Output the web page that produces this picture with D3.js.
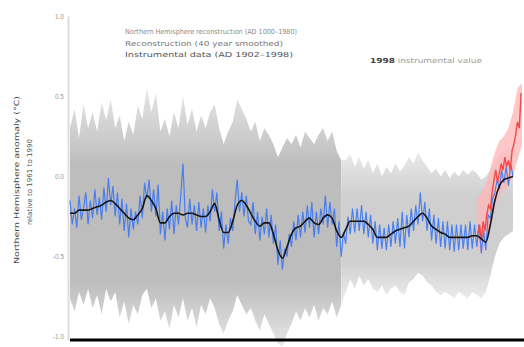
<!DOCTYPE html>
<html><head><meta charset="utf-8">
<script src="https://cdn.jsdelivr.net/npm/d3@7"></script>
<style>body{margin:0;background:#fff}svg{display:block;font-family:"DejaVu Sans",sans-serif}</style>
</head><body><svg id="c" width="524" height="347"></svg>
<script>
// ---- data ----
const yTicks = [1.0, 0.5, 0.0, -0.5, -1.0];
const yTickLabels = ["1.0", "0.5", "0.0", "-0.5", "-1.0"];
const yTitle = ["Northern Hemisphere anomaly (°C)", "relative to 1961 to 1990"];
const legendLines = ["Northern Hemisphere reconstruction (AD 1000–1980)", "Reconstruction (40 year smoothed)", "Instrumental data (AD 1902–1998)"];
const noteText = ["1998", " instrumental value"];

// annual reconstruction, sampled every 5 years, 1000..1980
const blueStart = 1000, blueStep = 5;
const blueValues = [
-0.15,-0.30,-0.20,-0.32,-0.12,-0.27,-0.20,-0.10,-0.30,-0.15,-0.26,-0.08,-0.24,-0.13,-0.27,-0.07,-0.22,-0.01,-0.18,-0.06,
-0.25,-0.10,-0.30,-0.14,-0.34,-0.17,-0.38,-0.20,-0.33,-0.22,-0.30,-0.12,-0.26,-0.04,-0.14,-0.02,-0.22,-0.08,-0.25,-0.05,
-0.36,-0.22,-0.40,-0.20,-0.33,-0.15,-0.36,-0.18,-0.30,-0.12,0.08,-0.26,-0.32,-0.14,-0.30,-0.18,-0.34,-0.16,-0.32,-0.20,
-0.35,-0.18,-0.28,-0.08,-0.22,-0.10,-0.34,-0.22,-0.45,-0.30,-0.42,-0.26,-0.34,-0.16,-0.02,-0.22,-0.10,-0.25,-0.12,-0.28,
-0.30,-0.16,-0.36,-0.22,-0.40,-0.25,-0.36,-0.20,-0.38,-0.24,-0.42,-0.30,-0.55,-0.40,-0.58,-0.45,-0.50,-0.36,-0.44,-0.28,
-0.40,-0.24,-0.38,-0.22,-0.35,-0.18,-0.32,-0.16,-0.38,-0.22,-0.36,-0.20,-0.30,-0.12,-0.32,-0.16,-0.30,-0.20,-0.44,-0.28,
-0.50,-0.35,-0.42,-0.25,-0.36,-0.20,-0.35,-0.20,-0.34,-0.18,-0.36,-0.22,-0.38,-0.24,-0.42,-0.28,-0.46,-0.30,-0.45,-0.32,
-0.46,-0.30,-0.44,-0.28,-0.42,-0.26,-0.44,-0.22,-0.45,-0.24,-0.38,-0.20,-0.34,-0.18,-0.30,-0.10,-0.28,-0.16,-0.34,-0.20,
-0.40,-0.24,-0.42,-0.26,-0.44,-0.28,-0.45,-0.28,-0.46,-0.30,-0.47,-0.30,-0.46,-0.30,-0.45,-0.30,-0.46,-0.28,-0.45,-0.30,
-0.44,-0.30,-0.48,-0.34,-0.46,-0.24,-0.26,-0.14,-0.10,-0.02,-0.08,0.04,-0.04,0.06,-0.06,0.08,0.00
];

// 40-year smoothed, every 10 years, 1000..1980
const smoothStart = 1000, smoothStep = 10;
const smoothValues = [
-0.23,-0.23,-0.21,-0.21,-0.21,-0.20,-0.19,-0.18,-0.16,-0.15,
-0.17,-0.20,-0.23,-0.26,-0.27,-0.24,-0.20,-0.12,-0.15,-0.20,
-0.29,-0.29,-0.25,-0.23,-0.23,-0.24,-0.23,-0.23,-0.24,-0.25,
-0.25,-0.22,-0.17,-0.27,-0.35,-0.35,-0.28,-0.18,-0.15,-0.18,
-0.23,-0.28,-0.31,-0.29,-0.29,-0.36,-0.46,-0.51,-0.44,-0.36,
-0.32,-0.31,-0.28,-0.26,-0.29,-0.30,-0.26,-0.24,-0.26,-0.34,
-0.38,-0.33,-0.28,-0.28,-0.28,-0.28,-0.30,-0.33,-0.38,-0.38,
-0.38,-0.36,-0.34,-0.33,-0.32,-0.31,-0.28,-0.25,-0.23,-0.26,
-0.31,-0.33,-0.35,-0.36,-0.38,-0.38,-0.38,-0.38,-0.38,-0.37,
-0.37,-0.39,-0.41,-0.30,-0.15,-0.06,-0.02,-0.01,0.00
];

// uncertainty limits, every 10 years, 1000..1980
const bandStart = 1000, bandStep = 10;
const bandUpper = [
0.30,0.42,0.24,0.45,0.30,0.40,0.28,0.46,0.35,0.48,
0.30,0.38,0.22,0.34,0.26,0.44,0.36,0.55,0.40,0.52,
0.28,0.36,0.25,0.40,0.30,0.50,0.32,0.42,0.28,0.38,
0.30,0.40,0.45,0.30,0.20,0.28,0.34,0.48,0.42,0.36,
0.28,0.34,0.22,0.30,0.26,0.20,0.12,0.18,0.24,0.20,
0.26,0.18,0.28,0.24,0.20,0.26,0.30,0.22,0.28,0.16,
0.10,0.10,0.14,0.06,0.12,0.05,0.10,0.02,0.08,0.00,
0.06,0.02,0.08,0.03,0.07,0.12,0.08,0.15,0.10,0.06,
0.02,0.05,0.00,0.04,-0.01,0.03,0.00,0.04,0.01,0.04,
0.02,-0.02,0.00,0.04,0.08,0.14,0.16,0.18,0.18
];
const bandLower = [
-0.76,-0.84,-0.72,-0.80,-0.70,-0.82,-0.74,-0.86,-0.70,-0.78,
-0.72,-0.88,-0.78,-0.92,-0.80,-0.86,-0.74,-0.70,-0.82,-0.76,
-0.90,-0.84,-0.95,-0.80,-0.88,-0.76,-0.90,-0.82,-0.94,-0.80,
-0.86,-0.76,-0.82,-0.92,-0.98,-0.90,-0.84,-0.74,-0.80,-0.86,
-0.82,-0.90,-0.96,-0.86,-0.92,-0.98,-1.04,-1.06,-0.98,-0.92,
-0.84,-0.90,-0.82,-0.88,-0.80,-0.90,-0.82,-0.86,-0.78,-0.88,
-0.80,-0.72,-0.64,-0.70,-0.62,-0.68,-0.64,-0.70,-0.72,-0.68,
-0.74,-0.70,-0.68,-0.72,-0.74,-0.66,-0.64,-0.60,-0.62,-0.66,
-0.68,-0.72,-0.74,-0.72,-0.74,-0.76,-0.72,-0.74,-0.76,-0.72,
-0.74,-0.76,-0.72,-0.62,-0.50,-0.42,-0.38,-0.36,-0.34
];
const bandSplitYear = 1600;

// instrumental record (thermometers), every 4 years, 1902..1998
const redStart = 1902, redStep = 4;
const redValues = [-0.36,-0.30,-0.40,-0.28,-0.34,-0.24,-0.18,-0.20,-0.10,-0.02,0.04,-0.04,0.02,0.08,0.04,0.12,0.06,0.10,0.04,0.16,0.20,0.26,0.34,0.30,0.52];
// instrumental spread, every 10 years, 1900..2000
const pinkStart = 1900, pinkStep = 10;
const pinkUpper = [-0.15,-0.10,-0.05,0.05,0.15,0.22,0.25,0.30,0.40,0.55,0.58];
const pinkLower = [-0.45,-0.48,-0.42,-0.32,-0.20,-0.12,-0.08,-0.06,0.00,0.10,0.20];

// ---- chart ----
const W = 524, H = 347;
const svg = d3.select("#c");
const x = d3.scaleLinear().domain([1000, 2000]).range([70, 522]);
const y = d3.scaleLinear().domain([-1.02, 1.0]).range([340, 16]);

const series = (start, step, vals) => vals.map((v, i) => ({yr: start + i * step, v}));
const blue = series(blueStart, blueStep, blueValues);
const smooth = series(smoothStart, smoothStep, smoothValues);
const band = bandUpper.map((u, i) => ({yr: bandStart + i * bandStep, hi: u, lo: bandLower[i]}));
const red = series(redStart, redStep, redValues);
const pink = pinkUpper.map((u, i) => ({yr: pinkStart + i * pinkStep, hi: u, lo: pinkLower[i]}));

const area = d3.area().x(d => x(d.yr)).y0(d => y(d.lo)).y1(d => y(d.hi));
const line = d3.line().x(d => x(d.yr)).y(d => y(d.v));

// defs: soft-edged band gradients and a light blur
const defs = svg.append("defs");
function grad(id, top, bot, core, edge) {
  const g = defs.append("linearGradient").attr("id", id).attr("gradientUnits", "userSpaceOnUse")
    .attr("x1", 0).attr("x2", 0).attr("y1", y(top)).attr("y2", y(bot));
  [[0, edge], [0.3, core], [0.75, core], [1, edge]].forEach(([o, c]) =>
    g.append("stop").attr("offset", o).attr("stop-color", c));
}
grad("gL", 0.55, -1.06, "#bdbdbd", "#e6e6e6");
grad("gR", 0.16, -0.76, "#cfcfcf", "#ebebeb");
defs.append("filter").attr("id", "soft").attr("x", "-5%").attr("y", "-5%").attr("width", "110%").attr("height", "110%")
  .append("feGaussianBlur").attr("stdDeviation", 0.55);

// y axis (light line, grey labels)
const yAxis = d3.axisLeft(y).tickValues(yTicks).tickFormat((d, i) => yTickLabels[i]).tickSize(0).tickPadding(4);
const gy = svg.append("g").attr("transform", "translate(68,0)").call(yAxis);
gy.select(".domain").attr("stroke", "#ddd").attr("stroke-width", 2);
gy.selectAll("text").attr("font-size", 6.5).attr("fill", "#999");

const marks = svg.append("g").attr("filter", "url(#soft)");

// uncertainty band
marks.append("path").datum(band.filter(d => d.yr <= bandSplitYear))
  .attr("d", area).attr("fill", "url(#gL)");
marks.append("path").datum(band.filter(d => d.yr >= bandSplitYear))
  .attr("d", area).attr("fill", "url(#gR)");

// instrumental spread
marks.append("path").datum(pink).attr("d", area).attr("fill", "#ffb4b4").attr("opacity", 0.75);

// annual reconstruction
marks.append("path").datum(blue).attr("d", line)
  .attr("fill", "none").attr("stroke", "#3d78f2").attr("stroke-width", 1.2).attr("opacity", 0.9);

// instrumental
marks.append("path").datum(red).attr("d", line)
  .attr("fill", "none").attr("stroke", "#f24a4a").attr("stroke-width", 1.4);

// smoothed
marks.append("path").datum(smooth).attr("d", line.curve(d3.curveMonotoneX))
  .attr("fill", "none").attr("stroke", "#141414").attr("stroke-width", 1.6);

// x axis baseline
const xAxis = d3.axisBottom(x).tickValues([]).tickSize(0);
const gx = svg.append("g").attr("transform", `translate(0,${y(-1.02)})`).call(xAxis);
gx.select(".domain").attr("d", `M${x(1000)},0H${W}`).attr("stroke", "#000").attr("stroke-width", 3);

// y title (rotated, two lines)
const tg = svg.append("g").attr("transform", "translate(0,180) rotate(-90)");
tg.append("text").attr("x", 0).attr("y", 19).attr("text-anchor", "middle")
  .attr("font-size", 7).attr("fill", "#444").attr("textLength", 168).attr("lengthAdjust", "spacingAndGlyphs").text(yTitle[0]);
tg.append("text").attr("x", -2).attr("y", 32).attr("text-anchor", "middle")
  .attr("font-size", 7).attr("fill", "#555").attr("textLength", 86).attr("lengthAdjust", "spacingAndGlyphs").text(yTitle[1]);

// legend text
const lw = [172, 158, 168], lc = ["#8a8a8a", "#777", "#555"], ly = [34, 46, 57];
legendLines.forEach((t, i) => {
  svg.append("text").attr("x", 125).attr("y", ly[i]).attr("font-size", 7)
    .attr("fill", lc[i]).attr("textLength", lw[i]).attr("lengthAdjust", "spacingAndGlyphs").text(t);
});
const note = svg.append("text").attr("x", 370).attr("y", 63).attr("font-size", 7)
  .attr("textLength", 112).attr("lengthAdjust", "spacingAndGlyphs");
note.append("tspan").attr("fill", "#444").attr("font-weight", "bold").text(noteText[0]);
note.append("tspan").attr("fill", "#999").text(noteText[1]);
</script></body></html>
